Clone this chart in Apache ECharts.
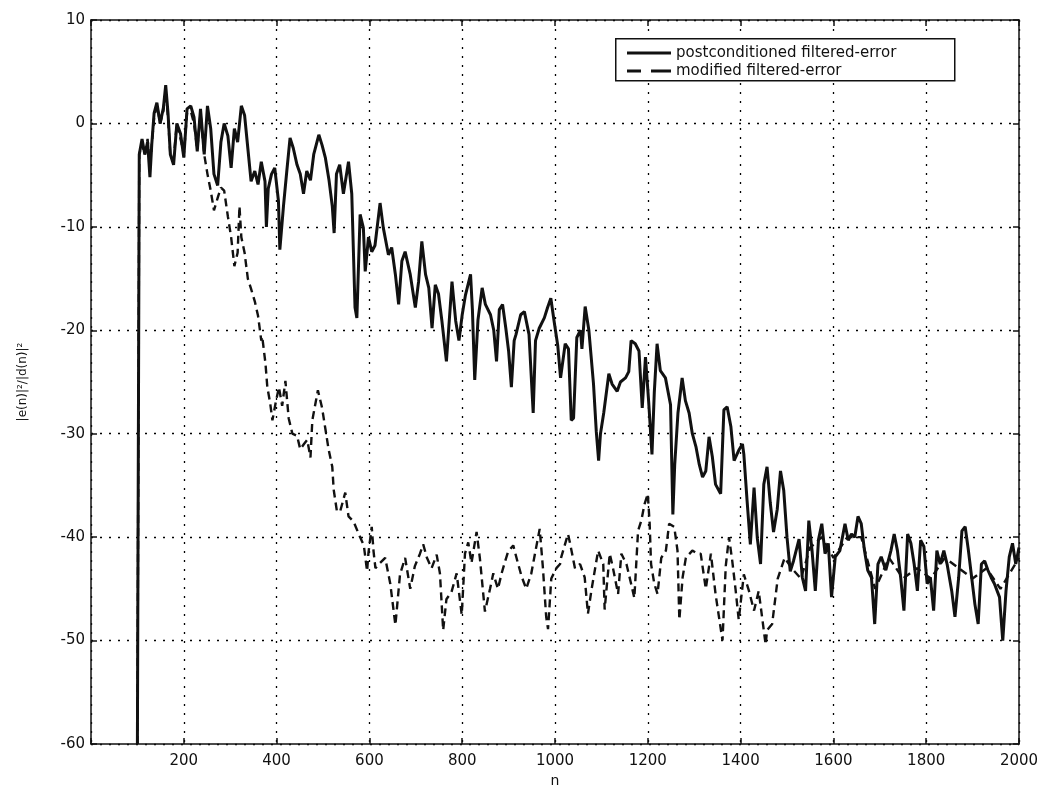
<!DOCTYPE html>
<html>
<head>
<meta charset="utf-8">
<script src="https://cdn.jsdelivr.net/npm/echarts@6/dist/echarts.min.js"></script>
<style>
html,body{margin:0;padding:0;background:#fff;}
#chart{width:1048px;height:798px;}
</style>
</head>
<body>
<div id="chart"></div>
<script>
// Tick labels / axes
const xTicks = [0, 200, 400, 600, 800, 1000, 1200, 1400, 1600, 1800, 2000];
const yTicks = [10, 0, -10, -20, -30, -40, -50, -60];
const seriesNames = ['postconditioned filtered-error', 'modified filtered-error'];

// Solid series: postconditioned filtered-error
const solidN = [100,104,110,116,122,127,131,136,142,149,156,161,166,171,178,185,193,200,207,215,222,229,236,244,251,258,265,273,280,287,295,302,309,316,324,331,338,345,353,360,367,375,378,382,389,396,404,407,415,422,429,436,444,451,458,465,473,480,491,498,505,513,520,524,529,536,544,555,562,569,573,580,587,591,598,605,612,623,630,641,648,656,663,670,677,688,699,706,713,721,728,735,742,749,756,766,771,778,786,793,800,807,818,822,827,834,843,850,861,868,874,880,887,894,900,906,912,916,926,934,944,953,958,966,977,984,991,998,1006,1012,1022,1029,1035,1040,1047,1055,1058,1065,1073,1083,1089,1094,1098,1105,1116,1123,1134,1141,1152,1159,1164,1173,1181,1188,1195,1202,1209,1214,1220,1227,1238,1249,1254,1258,1265,1274,1281,1289,1296,1304,1311,1318,1325,1332,1339,1346,1357,1364,1371,1379,1386,1396,1404,1407,1414,1421,1429,1436,1443,1450,1457,1464,1471,1479,1486,1493,1500,1507,1514,1518,1526,1533,1540,1547,1554,1561,1568,1575,1582,1589,1596,1604,1614,1625,1632,1639,1646,1653,1660,1667,1674,1682,1689,1696,1703,1713,1724,1731,1738,1745,1752,1760,1767,1774,1781,1788,1795,1802,1809,1816,1823,1830,1838,1845,1855,1862,1870,1877,1884,1891,1898,1905,1912,1919,1926,1933,1940,1947,1958,1965,1972,1979,1986,1993,2000];
const solidV = [-60,-3,-1.5,-3,-1.8,-5.2,-2,1,2,0,1.5,3.7,1,-3,-4,0,-1,-3.3,1.4,1.7,0.6,-2.7,1.4,-3,1.7,-0.5,-4.9,-6,-1.8,0,-1.2,-4.3,-0.5,-1.8,1.7,0.8,-2.4,-5.6,-4.6,-5.9,-3.7,-5.6,-10,-6.3,-4.9,-4.3,-7.5,-12.2,-7.9,-4.6,-1.4,-2.4,-4,-4.9,-6.8,-4.6,-5.5,-3,-1.1,-2.1,-3.3,-5.5,-8,-10.6,-4.9,-4,-6.8,-3.7,-6.8,-17.8,-18.8,-8.8,-10.1,-14.3,-11,-12.4,-11.8,-7.7,-10.1,-12.7,-12,-14.6,-17.5,-13.3,-12.4,-14.6,-17.8,-15.3,-11.4,-14.6,-15.9,-19.8,-15.6,-16.5,-19,-23,-19.8,-15.3,-19.1,-21,-18.5,-16.6,-14.6,-18,-24.8,-19,-15.9,-17.5,-18.5,-20,-23,-18,-17.5,-19.8,-22,-25.5,-21,-20.4,-18.5,-18.2,-20.4,-28,-21,-19.8,-18.8,-17.8,-16.9,-19.1,-21.5,-24.6,-21.3,-21.8,-28.7,-28.5,-20.7,-20,-21.8,-17.7,-20,-25.2,-29.8,-32.6,-30,-28,-24.2,-25.2,-25.9,-25,-24.6,-24,-21,-21.3,-22,-27.5,-22.6,-27,-32,-26,-21.3,-23.9,-24.6,-27.2,-37.8,-33,-28,-24.6,-26.8,-28,-30,-31.3,-33,-34.2,-33.6,-30.3,-32.2,-34.9,-35.8,-27.7,-27.4,-29.3,-32.6,-31.6,-31,-32,-36.5,-40.7,-35.2,-40.1,-42.6,-34.9,-33.2,-36.7,-39.5,-37.3,-33.6,-35.5,-40,-43.3,-42.3,-41.6,-40.2,-43.9,-45.2,-38.4,-41.3,-45.2,-40.2,-38.7,-41.6,-40.6,-45.8,-41.9,-41.3,-38.7,-40.3,-39.7,-40,-38,-38.7,-41.3,-43.2,-43.9,-48.4,-42.6,-41.9,-43.2,-41.3,-39.7,-41.3,-43.9,-47.1,-39.7,-40.6,-42.6,-45.2,-40.3,-40.9,-44.5,-43.9,-47.1,-41.3,-42.6,-41.3,-42.6,-45.2,-47.7,-43.9,-39.4,-39,-41.3,-43.9,-46.5,-48.4,-42.6,-42.3,-43.2,-43.9,-44.5,-45.8,-50,-45.2,-41.9,-40.6,-42.6,-41];

// Dashed series: modified filtered-error
const dashedN = [100,104,110,116,122,127,131,136,142,149,156,161,166,171,178,185,193,200,207,215,222,229,236,244,251,258,265,273,280,287,295,302,309,316,320,324,331,338,345,353,360,367,369,376,380,386,391,398,405,412,419,426,434,444,451,459,466,473,477,484,489,498,505,512,520,523,530,537,548,555,566,577,588,595,598,605,609,613,623,634,645,656,666,677,688,698,709,716,724,734,745,752,759,766,777,788,799,806,813,820,831,838,849,860,867,877,885,892,899,910,920,928,938,949,956,967,974,981,985,992,1003,1011,1013,1028,1032,1043,1054,1064,1071,1079,1093,1104,1107,1118,1125,1136,1143,1154,1164,1171,1179,1186,1193,1200,1204,1207,1214,1221,1229,1239,1246,1257,1264,1268,1275,1282,1296,1307,1314,1325,1336,1346,1361,1368,1375,1382,1389,1396,1407,1418,1429,1439,1454,1457,1468,1480,1495,1510,1530,1550,1575,1600,1630,1660,1690,1720,1750,1780,1810,1840,1870,1900,1930,1960,2000];
const dashedV = [-60,-3,-2,-3,-1.5,-4.5,-2,0.5,1.8,0,1.2,3.2,0.5,-3,-3.5,0,-1.5,-3,1,1.2,0,-2.5,1,-3,-4.9,-6.5,-8.4,-7.2,-6.2,-6.5,-9,-11,-13.8,-12.5,-8,-11,-12.5,-15,-16,-17.2,-18.6,-21,-20.6,-23.2,-25.5,-27,-28.7,-27,-25.5,-27.3,-24.9,-28.5,-30,-30.2,-31.5,-31,-30.6,-32.3,-28.7,-27,-25.8,-27.5,-29.5,-31.5,-33.2,-35.4,-37.5,-37.5,-35.7,-38,-38.5,-39.7,-40.8,-43.3,-41.5,-39,-41.4,-43,-42.5,-42,-44.5,-48.5,-43.6,-42,-45,-42.8,-41.6,-40.7,-42,-43,-41.7,-43.5,-49,-46,-45.3,-43.5,-47.5,-41.6,-40.5,-42.5,-39.5,-42,-47.2,-45,-43.5,-45,-43.5,-42.4,-41.4,-40.8,-42.5,-43.8,-45,-43.5,-41.8,-39.2,-43,-47.7,-48.9,-44,-43,-42.6,-42,-39.7,-40.5,-43,-42.6,-43.9,-47.4,-45,-41.3,-42.6,-47,-41.6,-43,-45.5,-41.6,-42.6,-44.5,-45.9,-39.4,-38.4,-36.8,-35.8,-38.7,-42.6,-44.5,-45.5,-42,-41.3,-38.7,-39,-41.3,-48,-43.9,-42,-41.3,-41.6,-41.6,-45,-41.6,-45.5,-50,-42.8,-40,-42.3,-45,-48,-43.6,-45.2,-47.1,-45.2,-50.4,-49,-48.4,-44,-42,-43,-44,-41,-40,-42,-40,-40,-45,-42,-44,-43,-44,-42,-43,-44,-43,-45,-42];

const FONT = 'DejaVu Sans';
const INK = '#111';

function pairs(ns, vs) { return ns.map((n, i) => [n, vs[i]]); }

const chart = echarts.init(document.getElementById('chart'), null, {renderer: 'canvas'});

const gridLine = {show: true, lineStyle: {color: '#000', type: [2, 7], width: 1.3}};
const xMin = xTicks[0], xMax = xTicks[xTicks.length - 1];
const yMin = yTicks[yTicks.length - 1], yMax = yTicks[0];
const axisLineStyle = {show: true, onZero: false, lineStyle: {color: INK, width: 1.5}};
const tickStyle = {show: true, inside: true, length: 6, lineStyle: {color: INK, width: 1.5}};

const option = {
  backgroundColor: '#fff',
  animation: false,
  grid: {left: 91, right: 29, top: 20, bottom: 54, containLabel: false},
  graphic: [{
    type: 'rect', left: 615, top: 38, z: 100,
    shape: {width: 339, height: 42},
    style: {fill: '#fff', stroke: INK, lineWidth: 1.5}
  }],
  legend: {
    show: true, orient: 'vertical', left: 627, top: 45, z: 101,
    itemWidth: 44, itemHeight: 3, itemGap: 2, padding: 0,
    textStyle: {fontFamily: FONT, fontSize: 15, color: INK, lineHeight: 16},
    data: [
      {name: seriesNames[0], icon: 'path://M0,0H44V3H0Z'},
      {name: seriesNames[1], icon: 'path://M0,0H14V3H0Z M24,0H44V3H24Z'}
    ],
    itemStyle: {color: INK},
    selectedMode: false
  },
  xAxis: [{
    type: 'value', min: xMin, max: xMax, interval: 200,
    name: 'n', nameLocation: 'middle', nameGap: 29,
    nameTextStyle: {fontFamily: FONT, fontSize: 14, color: INK},
    axisLine: axisLineStyle, axisTick: tickStyle,
    axisLabel: {fontFamily: FONT, fontSize: 15, color: INK, margin: 10,
      formatter: v => (v === 0 ? '' : String(v))},
    splitLine: gridLine
  }, {
    type: 'value', min: xMin, max: xMax, interval: 200, position: 'top',
    axisLine: axisLineStyle, axisTick: tickStyle,
    axisLabel: {show: false}, splitLine: {show: false}
  }],
  yAxis: [{
    type: 'value', min: yMin, max: yMax, interval: 10,
    name: '|e(n)|²/|d(n)|²', nameLocation: 'middle', nameGap: 62,
    nameTextStyle: {fontFamily: FONT, fontSize: 12, color: INK},
    axisLine: axisLineStyle, axisTick: tickStyle,
    axisLabel: {fontFamily: FONT, fontSize: 15, color: INK, margin: 6},
    splitLine: gridLine
  }, {
    type: 'value', min: yMin, max: yMax, interval: 10, position: 'right',
    axisLine: axisLineStyle, axisTick: tickStyle,
    axisLabel: {show: false}, splitLine: {show: false}
  }],
  series: [{
    name: seriesNames[1], type: 'line', xAxisIndex: 0, yAxisIndex: 0,
    data: pairs(dashedN, dashedV), symbol: 'none', smooth: false, z: 2,
    lineStyle: {color: INK, width: 2.4, type: [8, 5]},
    itemStyle: {color: INK}
  }, {
    name: seriesNames[0], type: 'line', xAxisIndex: 0, yAxisIndex: 0,
    data: pairs(solidN, solidV), symbol: 'none', smooth: false, z: 3,
    lineStyle: {color: INK, width: 3, type: 'solid'},
    itemStyle: {color: INK}
  }]
};
chart.setOption(option);
</script>
</body>
</html>
